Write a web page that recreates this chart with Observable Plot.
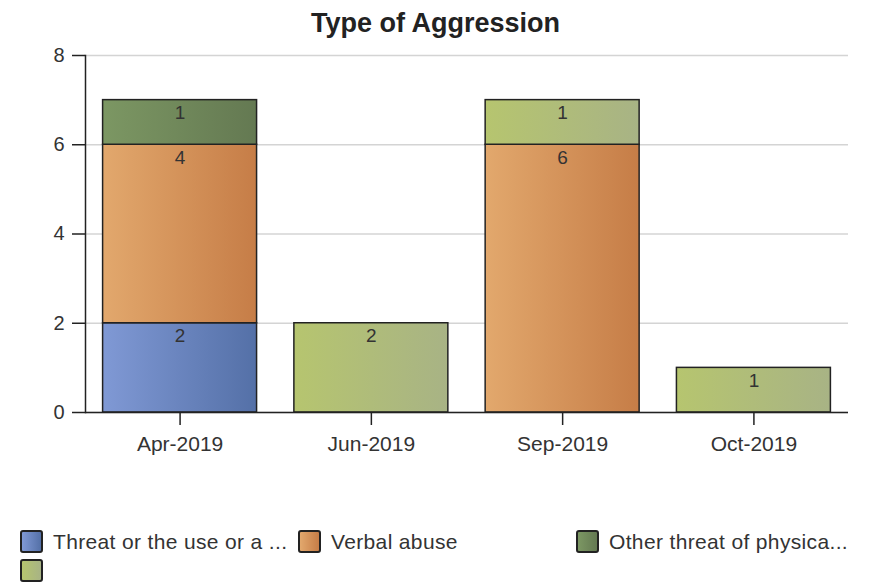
<!DOCTYPE html>
<html><head><meta charset="utf-8">
<script src="https://cdn.jsdelivr.net/npm/d3@7"></script>
<script src="https://cdn.jsdelivr.net/npm/@observablehq/plot@0.6"></script>
<style>
body{margin:0;background:#fff;font-family:"Liberation Sans",Arial,sans-serif;width:871px;}
#title{height:44px;line-height:46px;text-align:center;font-weight:bold;font-size:27px;color:#222;}
#legend{display:grid;grid-template-columns:278px 278px 278px;padding-left:20px;row-gap:6px;margin-top:16px}
.item{display:flex;align-items:center;font-size:21px;letter-spacing:0.35px;color:#333;height:23px;white-space:nowrap}
.sw{width:19px;height:19px;border:2px solid #222;border-radius:3px;margin-right:10px;box-sizing:content-box;flex:none}
</style></head>
<body>
<div id="title">Type of Aggression</div>
<div id="chart"></div>
<div id="legend"></div>
<script>
const months = ["Apr-2019", "Jun-2019", "Sep-2019", "Oct-2019"];
const seriesIds = ["threat", "verbal", "other", "blank"];
const seriesLabels = ["Threat or the use or a ...", "Verbal abuse", "Other threat of physica...", ""];
const threatValues = [2, 0, 0, 0];
const verbalValues = [4, 0, 6, 0];
const otherValues = [1, 0, 0, 0];
const blankValues = [0, 2, 1, 1];
const yTicks = [0, 2, 4, 6, 8];

const gradStops = {
  threat: ["#8099d5", "#5470a7"],
  verbal: ["#e2a86d", "#c67d47"],
  other: ["#7c9763", "#647952"],
  blank: ["#b6c56f", "#a8b385"]
};

const seriesValues = [threatValues, verbalValues, otherValues, blankValues];
const data = [];
seriesIds.forEach((s, i) => {
  months.forEach((m, j) => {
    const v = seriesValues[i][j];
    if (v > 0) data.push({month: m, series: s, value: v});
  });
});

const plot = Plot.plot({
  width: 871,
  height: 470,
  marginTop: 11,
  marginBottom: 102,
  marginLeft: 85,
  marginRight: 23,
  style: {fontFamily: '"Liberation Sans", Arial, sans-serif', color: "#333", background: "white"},
  x: {type: "band", domain: months, paddingInner: 0.195, paddingOuter: 0.092, round: false, label: null},
  y: {domain: [0, 8], label: null},
  color: {domain: seriesIds, range: seriesIds.map(s => `url(#grad-${s})`)},
  marks: [
    Plot.gridY(yTicks, {stroke: "#d4d4d4", strokeOpacity: 1, strokeWidth: 1.5}),
    Plot.barY(data, Plot.stackY({x: "month", y: "value", z: "series", fill: "series", order: seriesIds, stroke: "#222", strokeWidth: 1.5})),
    Plot.text(data, Plot.stackY2({x: "month", y: "value", z: "series", order: seriesIds, text: "value", dy: 13, fontSize: 19, fill: "#333"})),
    Plot.ruleY([0], {stroke: "#222", strokeWidth: 1.5}),
    Plot.frame({anchor: "left", stroke: "#222", strokeWidth: 1.5}),
    Plot.axisY({ticks: yTicks, tickSize: 13, tickPadding: 8, fontSize: 20, label: null, stroke: "#222", strokeWidth: 1.5}),
    Plot.axisX({tickSize: 13, tickPadding: 11, fontSize: 21, label: null, stroke: "#222", strokeWidth: 1.5})
  ]
});

const svg = d3.select(plot);
const defs = svg.insert("defs", ":first-child");
seriesIds.forEach(s => {
  const g = defs.append("linearGradient").attr("id", `grad-${s}`).attr("x1", "0%").attr("x2", "100%").attr("y1", "0%").attr("y2", "0%");
  g.append("stop").attr("offset", "0%").attr("stop-color", gradStops[s][0]);
  g.append("stop").attr("offset", "100%").attr("stop-color", gradStops[s][1]);
});
document.getElementById("chart").appendChild(plot);

const legend = document.getElementById("legend");
seriesIds.forEach((s, i) => {
  const item = document.createElement("div");
  item.className = "item";
  const sw = document.createElement("div");
  sw.className = "sw";
  sw.style.background = `linear-gradient(to right, ${gradStops[s][0]}, ${gradStops[s][1]})`;
  item.appendChild(sw);
  const t = document.createElement("span");
  t.textContent = seriesLabels[i];
  item.appendChild(t);
  legend.appendChild(item);
});
</script>
</body></html>
